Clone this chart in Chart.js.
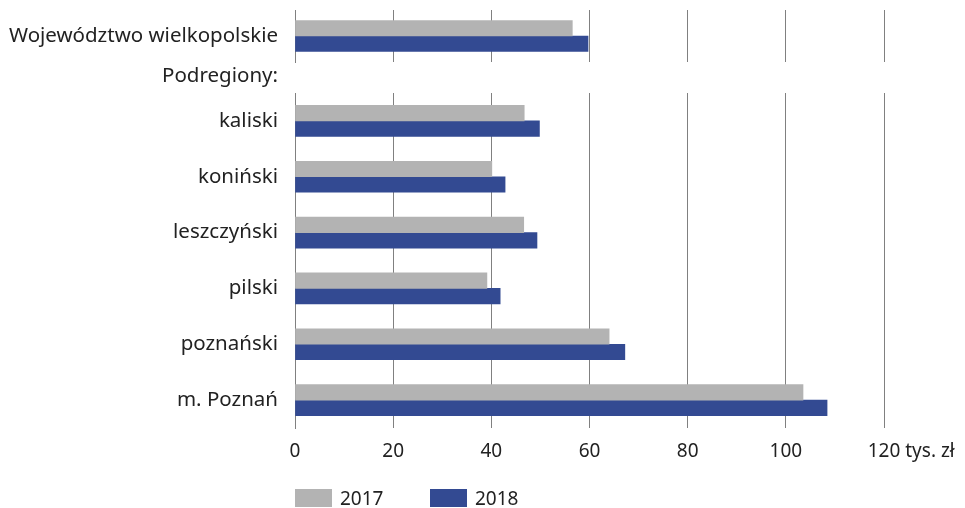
<!DOCTYPE html>
<html>
<head>
<meta charset="utf-8">
<script src="https://cdn.jsdelivr.net/npm/chart.js@4/dist/chart.umd.min.js"></script>
<style>
  html, body { margin: 0; padding: 0; background: #fff; }
  body { width: 965px; height: 508px; position: relative; overflow: hidden; font-family: "Noto Sans", sans-serif; color: #222; }
  #topWrap { position: absolute; left: 0; top: 0; width: 965px; height: 66px; }
  #bottomWrap { position: absolute; left: 0; top: 66px; width: 965px; height: 442px; }
  #subLabel { position: absolute; right: 687px; top: 61px; font-size: 20.5px; line-height: 26px; }
  #legend { position: absolute; left: 295px; top: 487px; display: flex; font-size: 19px; line-height: 22px; }
  .item { display: flex; align-items: center; width: 135px; }
  .box { width: 37px; height: 18px; margin-right: 8px; }
</style>
</head>
<body>
<div id="topWrap"><canvas id="topChart"></canvas></div>
<div id="subLabel">Podregiony:</div>
<div id="bottomWrap"><canvas id="bottomChart"></canvas></div>
<div id="legend"></div>
<script>
// ---- data ----
const years = ['2017', '2018'];
const voivodeship = ['Województwo wielkopolskie'];
const voiv2017 = [56.5];
const voiv2018 = [59.7];
const regions = ['kaliski', 'koniński', 'leszczyński', 'pilski', 'poznański', 'm. Poznań'];
const reg2017 = [46.7, 40.1, 46.6, 39.1, 64.0, 103.5];
const reg2018 = [49.8, 42.8, 49.3, 41.8, 67.2, 108.4];
const xTicks = [0, 20, 40, 60, 80, 100, 120];
const unit = 'tys. zł';

const colors = ['#b3b3b3', '#334a92'];
const gridColor = '#808080';
const textColor = '#222';
const labelFont = { family: '"Noto Sans", sans-serif', size: 20.5 };
const tickFont = { family: '"Noto Sans", sans-serif', size: 19 };

Chart.defaults.animation = false;
Chart.defaults.responsive = true;
Chart.defaults.maintainAspectRatio = false;

function makeDatasets(a, b) {
    return [a, b].map((d, i) => ({
        label: years[i],
        data: d,
        backgroundColor: colors[i],
        borderWidth: 0,
        barThickness: 15.5
    }));
}

function xScale(showTicks) {
    return {
        type: 'linear',
        min: 0,
        max: 120,
        afterBuildTicks: (s) => { s.ticks = xTicks.map(v => ({ value: v })); },
        afterFit: (s) => { s.height = showTicks ? 30 : 0; },
        grid: { color: gridColor, lineWidth: 1, drawTicks: false },
        border: { display: false },
        ticks: { display: showTicks, color: textColor, font: tickFont, padding: 12 }
    };
}

function yScale() {
    return {
        type: 'category',
        // fixed axis width so both charts share the same left edge
        afterFit: (s) => { s.width = 295; s.paddingTop = 0; s.paddingBottom = 0; },
        grid: { display: false, drawTicks: false },
        border: { display: true, color: gridColor, width: 1 },
        ticks: { color: textColor, font: labelFont, padding: 17 }
    };
}

// unit text after the last tick ("120 tys. zł")
const unitPlugin = {
    id: 'unitPlugin',
    afterDraw(chart) {
        const sx = chart.scales.x;
        const ctx = chart.ctx;
        const last = String(xTicks[xTicks.length - 1]);
        const item = sx.getLabelItems().find(it => it.label === last);
        if (!item) return;
        ctx.save();
        ctx.font = tickFont.size + 'px ' + tickFont.family;
        const w = ctx.measureText(last).width;
        ctx.fillStyle = textColor;
        ctx.textAlign = 'left';
        ctx.textBaseline = item.options.textBaseline;
        ctx.fillText(' ' + unit, sx.getPixelForValue(xTicks[xTicks.length - 1]) + w / 2,
            item.options.translation[1] + item.textOffset);
        ctx.restore();
    }
};

const topChart = new Chart(document.getElementById('topChart'), {
    type: 'bar',
    data: { labels: voivodeship, datasets: makeDatasets(voiv2017, voiv2018) },
    options: {
        indexAxis: 'y',
        layout: { padding: { top: 10, bottom: 4, left: 0, right: 81 } },
        plugins: { legend: { display: false }, tooltip: { enabled: false } },
        scales: { x: xScale(false), y: yScale() }
    }
});

const bottomChart = new Chart(document.getElementById('bottomChart'), {
    type: 'bar',
    data: { labels: regions, datasets: makeDatasets(reg2017, reg2018) },
    options: {
        indexAxis: 'y',
        layout: { padding: { top: 27, bottom: 50, left: 0, right: 81 } },
        plugins: { legend: { display: false }, tooltip: { enabled: false } },
        scales: { x: xScale(true), y: yScale() }
    },
    plugins: [unitPlugin]
});

// legend built from the datasets
const legend = document.getElementById('legend');
bottomChart.data.datasets.forEach(ds => {
    const item = document.createElement('div');
    item.className = 'item';
    item.innerHTML = '<span class="box" style="background:' + ds.backgroundColor + '"></span><span>' + ds.label + '</span>';
    legend.appendChild(item);
});
</script>
</body>
</html>
